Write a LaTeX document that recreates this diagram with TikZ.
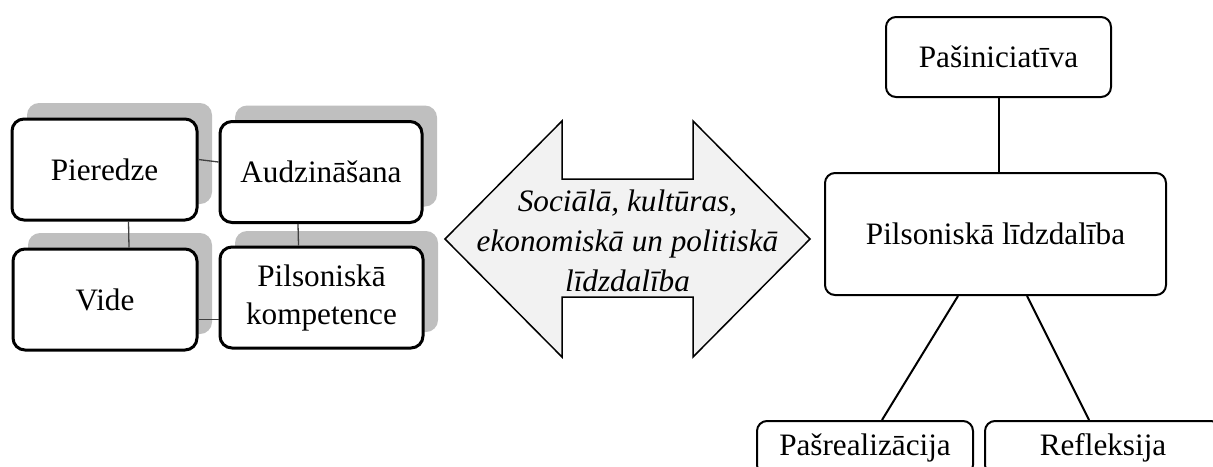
\documentclass[tikz,border=0pt]{standalone}
\usepackage{fontspec}
\setmainfont{Liberation Serif}
\usetikzlibrary{positioning,shadows}

\begin{document}
\begin{tikzpicture}[x=0.5pt,y=-0.5pt,
    every node/.style={font=\fontsize{15.6}{19}\selectfont, align=center},
    factor/.style={draw=black, line width=1.5pt, rounded corners=6pt, fill=white,
        minimum height=50.5pt,
        drop shadow={shadow xshift=7.5pt, shadow yshift=8pt, fill=gray!50, opacity=1}},
    part/.style={draw=black, line width=1pt, rounded corners=5pt, fill=white},
    link/.style={draw=black!75, line width=0.65pt},
    branch/.style={draw=black, line width=1pt}]
    \useasboundingbox (0,0) rectangle (1213,466);
    \clip (0,0) rectangle (1213,466);

    % Four factors with shadows
    \foreach \n/\x/\y/\w/\t in {pieredze/104.5/169.5/92.5/Pieredze,
        audzinasana/321/172/101/Audzinā\v{s}ana,
        vide/105/299.5/92/Vide,
        kompetence/321.5/297.5/101.5/{Pilsoniskā\\kompetence}} {
        \node[factor, minimum width=\w pt] (\n) at (\x,\y) {\t};
    }

    % Links between the factors
    \draw[link] ([yshift=5pt]pieredze.east) -- ([yshift=5pt]audzinasana.west);
    \draw[link] ([xshift=12pt]pieredze.south) -- ([xshift=12pt]vide.north);
    \draw[link] ([xshift=-11.5pt]audzinasana.south) -- ([xshift=-11.5pt]kompetence.north);
    \draw[link] ([yshift=-10pt]vide.east) -- ([yshift=-11pt]kompetence.west);

    % Double arrow
    \draw[line width=0.75pt, fill=gray!10] (445,239) -- (562,121) -- (562,179) -- (693,179)
        -- (693,121) -- (810,239) -- (693,357) -- (693,297) -- (562,297) -- (562,357) -- cycle;
    \node[font=\fontsize{15.6}{20}\selectfont\itshape] (sfera) at (627.5,241)
        {Sociālā, kultūras,\\ekonomiskā un politiskā\\līdzdalība};

    % Civic participation and its parts
    \node[part, minimum width=112.5pt, minimum height=40pt] (pasiniciativa) at (998.5,57) {Pa\v{s}iniciatīva};
    \node[part, minimum width=170.5pt, minimum height=61pt] (lidzdaliba) at (995.5,234) {Pilsoniskā līdzdalība};
    \node[part, minimum width=108pt, minimum height=27pt] (pasrealizacija) at (865,448) {Pa\v{s}realizācija};
    \node[part, minimum width=118pt, minimum height=27pt] (refleksija) at (1103,448) {Refleksija};

    \draw[branch] (pasiniciativa.south) -- (pasiniciativa.south |- lidzdaliba.north);
    \draw[branch] ([xshift=-18.75pt]lidzdaliba.south) -- ([xshift=8.5pt]pasrealizacija.north);
    \draw[branch] ([xshift=15.75pt]lidzdaliba.south) -- ([xshift=-7pt]refleksija.north);
\end{tikzpicture}
\end{document}
